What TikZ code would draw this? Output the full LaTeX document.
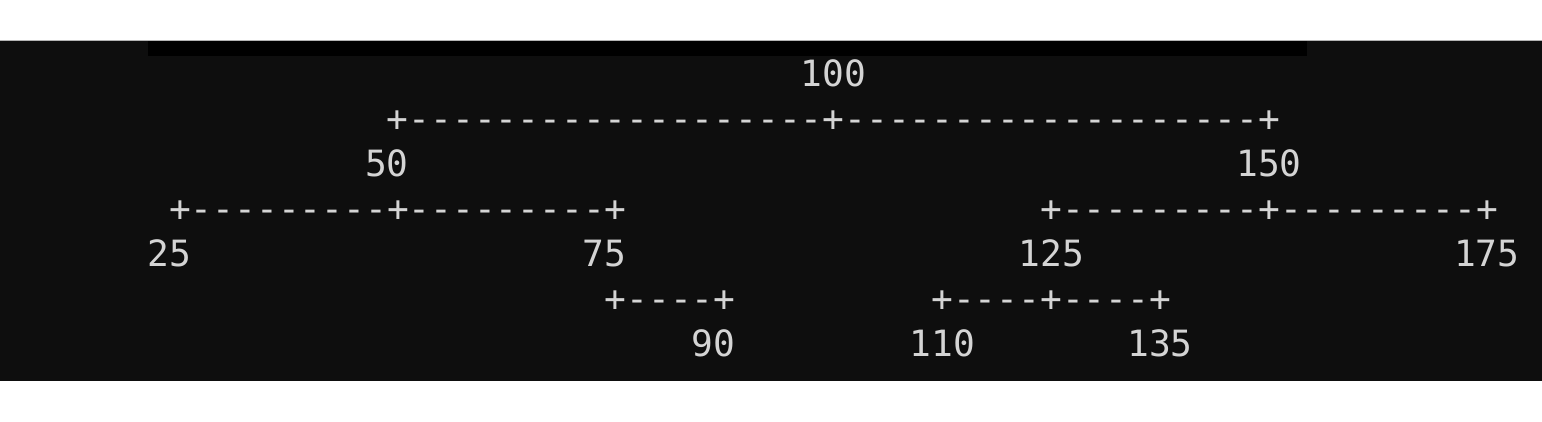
\documentclass[tikz,border=0pt]{standalone}
\usepackage{fontspec}
\setmonofont{DejaVu Sans Mono}
\definecolor{termbg}{RGB}{14,14,14}
\definecolor{termfg}{RGB}{212,212,212}
\definecolor{edge}{RGB}{180,180,180}
\tikzset{
  tok/.style={anchor=base west, inner sep=0pt, outer sep=0pt, text=termfg,
    font=\ttfamily\fontsize{36.2pt}{40pt}\selectfont}
}
\newcommand\cx[1]{147.3+21.78*#1}
\begin{document}
\begin{tikzpicture}[x=1pt,y=-1pt]
\useasboundingbox (0,0) rectangle (1542,421);
\fill[white] (0,0) rectangle (1542,421);
\fill[termbg] (0,40) rectangle (1542,381);
\fill[black] (148,41) rectangle (1307,55.5);
\draw[edge,line width=1pt] (0,40.5) -- (1542,40.5);
% line 1
\node[tok] (n100) at ({\cx{30}},86) {100};
% line 2
\node[tok] (r1) at ({\cx{11}},131) {+-------------------+-------------------+};
% line 3
\node[tok] (n50) at ({\cx{10}},176) {50};
\node[tok] (n150) at ({\cx{50}},176) {150};
% line 4
\node[tok] (r2a) at ({\cx{1}},221) {+---------+---------+};
\node[tok] (r2b) at ({\cx{41}},221) {+---------+---------+};
% line 5
\node[tok] (n25) at ({\cx{0}},266) {25};
\node[tok] (n75) at ({\cx{20}},266) {75};
\node[tok] (n125) at ({\cx{40}},266) {125};
\node[tok] (n175) at ({\cx{60}},266) {175};
% line 6
\node[tok] (r3a) at ({\cx{21}},311) {+----+};
\node[tok] (r3b) at ({\cx{36}},311) {+----+----+};
% line 7
\node[tok] (n90) at ({\cx{25}},356) {90};
\node[tok] (n110) at ({\cx{35}},356) {110};
\node[tok] (n135) at ({\cx{45}},356) {135};
\end{tikzpicture}
\end{document}
